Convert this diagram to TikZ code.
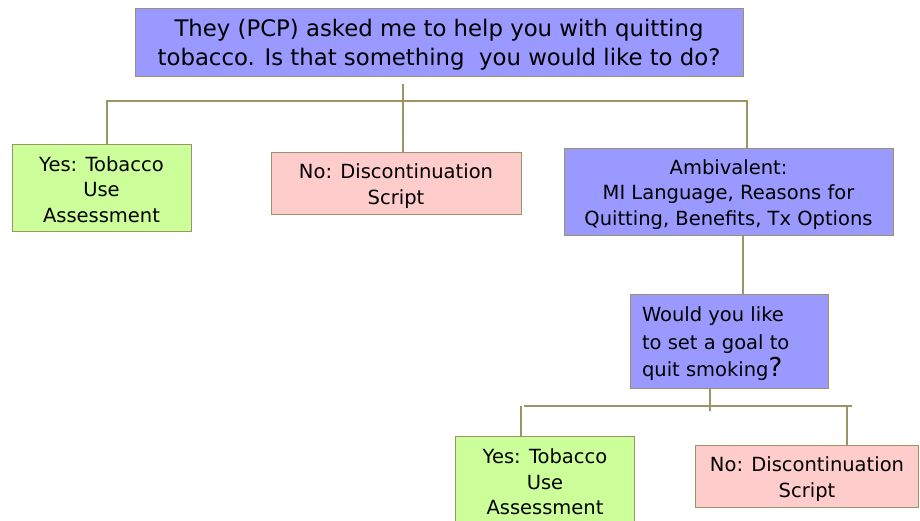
\documentclass[tikz,border=0pt]{standalone}
\usepackage{fontspec}
\setmainfont{DejaVu Sans}
\definecolor{qblue}{HTML}{9999FF}
\definecolor{qgreen}{HTML}{CCFF99}
\definecolor{qpink}{HTML}{FFCCCC}
\definecolor{linec}{HTML}{9C9466}
\newcommand{\dn}{\rule{0pt}{20.8pt}}
\tikzset{
  box/.style={draw=linec, line width=0.9pt, inner sep=0pt, align=center, font=\fontsize{19.5}{25.5}\selectfont},
  conn/.style={draw=linec, line width=1.6pt},
}
\begin{document}
\begin{tikzpicture}[x=1pt,y=-1pt]
\useasboundingbox[fill=white] (0,0) rectangle (920,520);
\node[box, fill=qblue, minimum width=608pt, minimum height=68pt, font=\fontsize{22.8}{29}\selectfont] (top) at (439,42)
  {\rule{0pt}{23.3pt}They (PCP) asked me to help you with quitting\\tobacco. Is that something\ \ you would like to do?};
\node[box, fill=qgreen, minimum width=179pt, minimum height=87pt] (yes1) at (101.5,187.5)
  {\rule{0pt}{18.8pt}Yes: Tobacco\\Use\\Assessment};
\node[box, fill=qpink, minimum width=250pt, minimum height=62pt] (no1) at (396,183)
  {\dn No: Discontinuation\\Script};
\node[box, fill=qblue, minimum width=329pt, minimum height=87pt] (amb) at (728.5,191.5)
  {\dn Ambivalent:\\MI Language, Reasons for\\Quitting, Benefits, Tx Options};
\node[box, fill=qblue, minimum width=198pt, minimum height=94pt, align=left, font=\fontsize{19.5}{27.5}\selectfont] (would) at (729,341)
  {\makebox[174pt][l]{\parbox{174pt}{\dn Would you like\\to set a goal to\\quit smoking{\fontsize{26}{27.5}\selectfont ?}}}};
\node[box, fill=qgreen, minimum width=179pt, minimum height=90pt] (yes2) at (545,481)
  {\rule{0pt}{16.8pt}Yes: Tobacco\\Use\\Assessment};
\node[box, fill=qpink, minimum width=223pt, minimum height=62pt] (no2) at (807,476)
  {\dn No: Discontinuation\\Script};
% first level
\coordinate (t1) at (403,84);
\coordinate (a) at (107,101);
\coordinate (b) at (747,101);
\draw[conn] (t1) -- (t1 |- no1.north);
\draw[conn] (a |- yes1.north) -- (a) -- (b) -- (b |- amb.north);
% ambivalent to would
\coordinate (c) at (743,0);
\draw[conn] (c |- amb.south) -- (c |- would.north);
% second level
\coordinate (d) at (710,411);
\coordinate (e) at (521,406);
\coordinate (f) at (847,406);
\coordinate (g) at (852,406);
\draw[conn] (d |- would.south) -- (d);
\draw[conn] (524,406) -- (g);
\draw[conn] (e) -- (e |- yes2.north);
\draw[conn] (f) -- (f |- no2.north);
\end{tikzpicture}
\end{document}
